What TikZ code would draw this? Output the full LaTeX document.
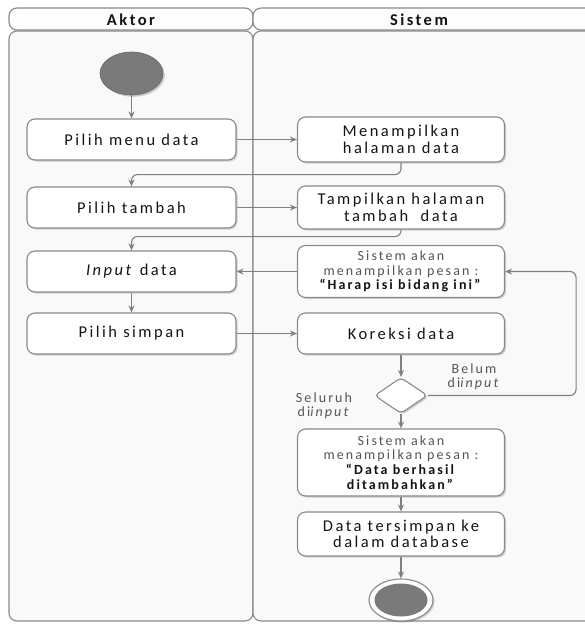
\documentclass[tikz,border=0pt]{standalone}
\usepackage{fontspec}
\setmainfont{Carlito}[LetterSpace=15]
\usetikzlibrary{shapes.geometric,arrows.meta,shadows}

\definecolor{lanefill}{HTML}{F9F9F9}
\definecolor{headfill}{HTML}{FDFDFD}
\definecolor{edge}{HTML}{8A8A8A}
\definecolor{wire}{HTML}{808080}
\definecolor{ink}{HTML}{141414}
\definecolor{softink}{HTML}{555555}
\definecolor{dot}{HTML}{7A7A7A}

\tikzset{
  x=1pt, y=-1pt,
  lane/.style={draw=edge, line width=1.1pt, fill=lanefill, rounded corners=8pt},
  headbar/.style={draw=edge, line width=1.1pt, fill=headfill, rounded corners=8pt},
  headtext/.style={text=ink, font=\fontsize{16.5}{17}\selectfont\bfseries, inner sep=0pt},
  boxshadow/.style={drop shadow={shadow xshift=1.6pt, shadow yshift=-1.6pt, fill=black, opacity=0.16}},
  act/.style={draw=edge, line width=1.1pt, fill=white, rounded corners=8pt,
    align=center, text=ink, font=\fontsize{16.5}{16.5}\selectfont, inner sep=2pt, boxshadow},
  aktorbox/.style={act, minimum width=209pt, minimum height=41pt},
  sysbox/.style={act, minimum width=207pt},
  msgbox/.style={sysbox, font=\fontsize{14}{14.8}\selectfont},
  choice/.style={diamond, draw=edge, line width=1.1pt, fill=white, rounded corners=4pt,
    minimum width=53pt, minimum height=36pt, inner sep=0pt, boxshadow},
  guard/.style={align=center, text=softink, font=\fontsize{14}{14}\selectfont, inner sep=0pt},
  startdot/.style={ellipse, fill=dot, draw=dot!85!black, line width=0.6pt, minimum width=63pt,
    minimum height=43pt, inner sep=0pt,
    drop shadow={shadow xshift=1.8pt, shadow yshift=-1.8pt, fill=black, opacity=0.18}},
  endring/.style={ellipse, draw=edge, line width=1.1pt, fill=white, minimum width=64pt,
    minimum height=42pt, inner sep=0pt, boxshadow},
  endcore/.style={ellipse, fill=dot, minimum width=53pt, minimum height=33pt, inner sep=0pt},
  conn/.style={draw=wire, line width=1.1pt, -{Stealth[length=7pt,width=6pt]}},
  loopconn/.style={conn, rounded corners=6pt},
}

\begin{document}
\begin{tikzpicture}
\useasboundingbox (0,0) rectangle (585,624);
\clip (0,0) rectangle (585,624);
\fill[white] (0,0) rectangle (585,624);

% swimlanes
\draw[lane] (9,31) rectangle (253,621);
\draw[lane] (253,31) rectangle (600,621);
\draw[headbar] (9,8) rectangle (253,30);
\draw[headbar] (253,8) rectangle (600,30);
\node[headtext] (hakt) at (131,19.5) {Aktor};
\node[headtext] (hsis) at (419,19.5) {Sistem};

% actor activities
\node[startdot] (start) at (131.5,73.5) {};
\node[aktorbox] (pm) at (131.5,139.5) {Pilih menu data};
\node[aktorbox] (pt) at (131.5,207.5) {Pilih tambah};
\node[aktorbox] (id) at (131.5,271.5) {\textit{Input} data};
\node[aktorbox] (ps) at (131.5,333.5) {Pilih simpan};

% system activities
\node[sysbox, minimum height=45pt] (mh) at (401,139.5) {Menampilkan\\halaman data};
\node[sysbox, minimum height=43pt] (th) at (401,207.5) {Tampilkan halaman\\tambah~ data};
\node[msgbox, minimum height=52pt] (hr) at (401,271.5)
  {{\color{softink}Sistem akan}\\{\color{softink}menampilkan pesan :}\\\textbf{“Harap isi bidang ini”}};
\node[sysbox, minimum height=41pt] (kd) at (401,333.5) {Koreksi data};
\node[choice] (dec) at (401,395.5) {};
\node[msgbox, minimum height=67pt] (bh) at (401,462.5)
  {{\color{softink}Sistem akan}\\{\color{softink}menampilkan pesan :}\\\textbf{“Data berhasil}\\\textbf{ditambahkan”}};
\node[sysbox, minimum height=44pt, font=\fontsize{16.5}{15.5}\selectfont] (db) at (401,534)
  {Data tersimpan ke\\dalam database};
\node[endring] (end) at (401,600) {};
\node[endcore] (endin) at (401,600) {};

% guard labels
\node[guard] (lbelum) at (474,377) {Belum\\di\textit{input}};
\node[guard] (lseluruh) at (324,405.5) {Seluruh\\di\textit{input}};

% control flow
\draw[conn] (start) -- (pm);
\draw[conn] (pm.east) -- (mh.west);
\draw[loopconn] (mh.south) -- ++(0,12) -| (pt.north);
\draw[conn] (pt.east) -- (pt.east -| th.west);
\draw[loopconn] (th.south) -- ++(0,7) -| (id.north);
\draw[conn] (id.south) -- (ps.north);
\draw[conn] (ps.east) -- (ps.east -| kd.west);
\draw[conn] (kd.south) -- (dec.north);
\draw[loopconn] (dec.east) -- ++(148,0) |- (hr.east);
\draw[conn] (hr.west) -- (hr.west -| id.east);
\draw[conn] (dec.south) -- (bh.north);
\draw[conn] (bh.south) -- (db.north);
\draw[conn] (db.south) -- (end.north);
\end{tikzpicture}
\end{document}
